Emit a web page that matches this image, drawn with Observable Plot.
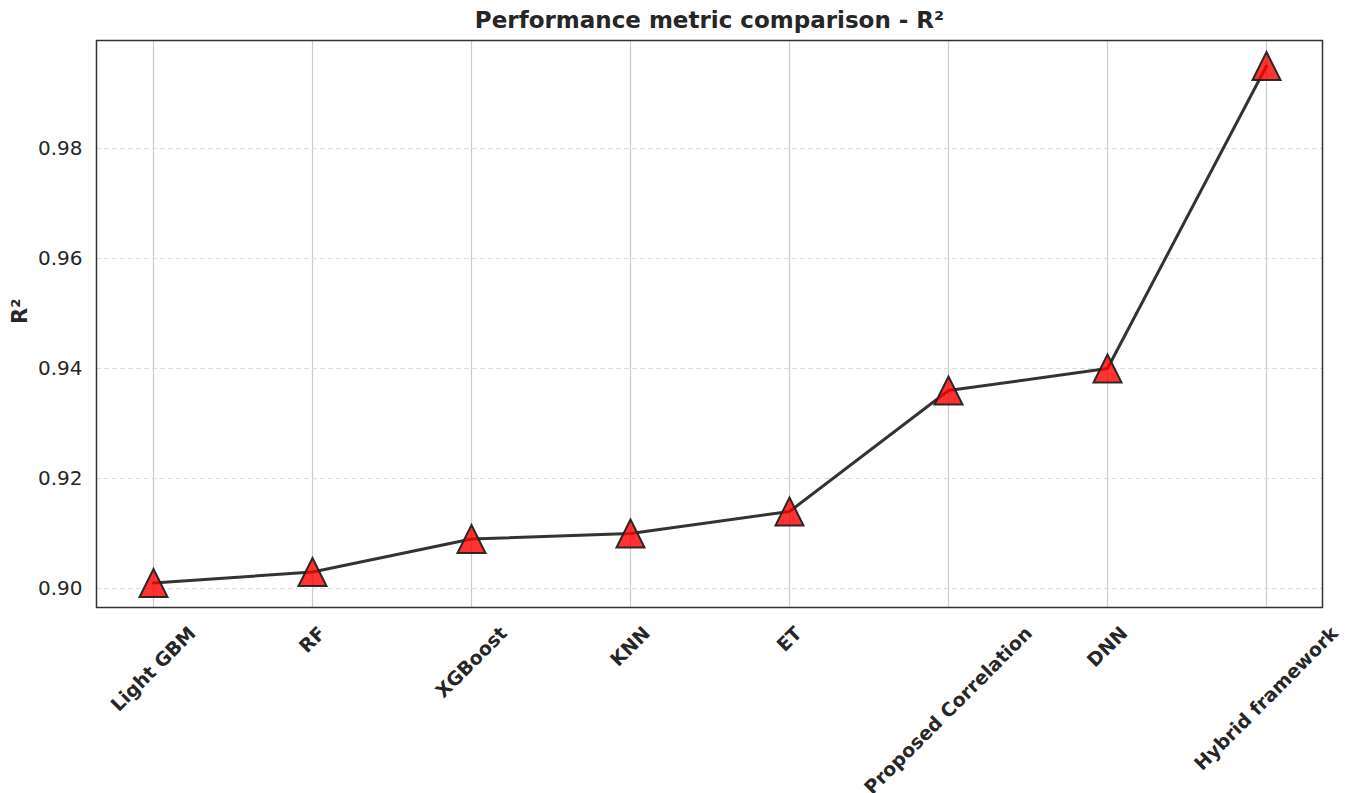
<!DOCTYPE html>
<html><head><meta charset="utf-8">
<script src="https://cdn.jsdelivr.net/npm/d3@7"></script>
<script src="https://cdn.jsdelivr.net/npm/@observablehq/plot@0.6"></script>
<style>body{margin:0;background:#fff}</style>
</head><body><div id="chart"></div>
<script>
const models = ["Light GBM","RF","XGBoost","KNN","ET","Proposed Correlation","DNN","Hybrid framework"];
const r2 = [0.901, 0.903, 0.909, 0.910, 0.914, 0.936, 0.940, 0.995];
const yTicks = [0.90, 0.92, 0.94, 0.96, 0.98];
const title = "Performance metric comparison - R²";
const yLabel = "R²";

const data = models.map((m, i) => ({model: m, r2: r2[i]}));

const W = 1354, H = 793, ml = 96, mr = 32, mt = 40, mb = 186;
const font = "DejaVu Sans";
const xFont = 19;

const tri = {draw(ctx, size) {
  const h = Math.sqrt(size / Math.PI);
  ctx.moveTo(0, -h); ctx.lineTo(h, h); ctx.lineTo(-h, h); ctx.closePath();
}};

const cv = document.createElement("canvas").getContext("2d");
cv.font = `bold ${xFont}px "${font}"`;

const xLabelMarks = models.map(m => {
  const L = cv.measureText(m).width;
  const bh = (L + xFont * 1.0) / Math.SQRT2;
  return Plot.text([m], {x: d => d, frameAnchor: "bottom", rotate: -45, textAnchor: "middle", lineAnchor: "middle",
    dy: 16 + bh / 2, fontSize: xFont, fontWeight: "bold", fill: "#262626"});
});

const chart = Plot.plot({
  width: W, height: H,
  marginLeft: ml, marginRight: mr, marginTop: mt, marginBottom: mb,
  style: {fontFamily: font, fontSize: "20px", color: "#262626", background: "white"},
  x: {type: "point", domain: models, padding: 0.345, axis: null},
  y: {domain: [0.89655, 0.99964], axis: null},
  marks: [
    Plot.gridX(models, {stroke: "#cccccc", strokeOpacity: 1, strokeWidth: 1.2}),
    Plot.gridY(yTicks, {stroke: "#dddddd", strokeOpacity: 1, strokeWidth: 1.2, strokeDasharray: "5,3"}),
    Plot.axisY(yTicks, {tickSize: 0, tickPadding: 14, tickFormat: d3.format(".2f"), fontSize: 20, fill: "#262626", label: null}),
    Plot.frame({stroke: "#333", strokeWidth: 1.5}),
    Plot.line(data, {x: "model", y: "r2", stroke: "#333", strokeWidth: 3}),
    Plot.dot(data, {x: "model", y: "r2", symbol: tri, r: 14, fill: "red", fillOpacity: 0.8, stroke: "#222", strokeWidth: 2, strokeOpacity: 0.95}),
    ...xLabelMarks,
    Plot.text([title], {frameAnchor: "top", lineAnchor: "middle", dy: -20, fontSize: 23, fontWeight: "bold", fill: "#262626"}),
    Plot.text([yLabel], {frameAnchor: "left", dx: -76, rotate: -90, fontSize: 21, fontWeight: "bold", fill: "#262626"})
  ]
});
document.getElementById("chart").appendChild(chart);
</script>
</body></html>
